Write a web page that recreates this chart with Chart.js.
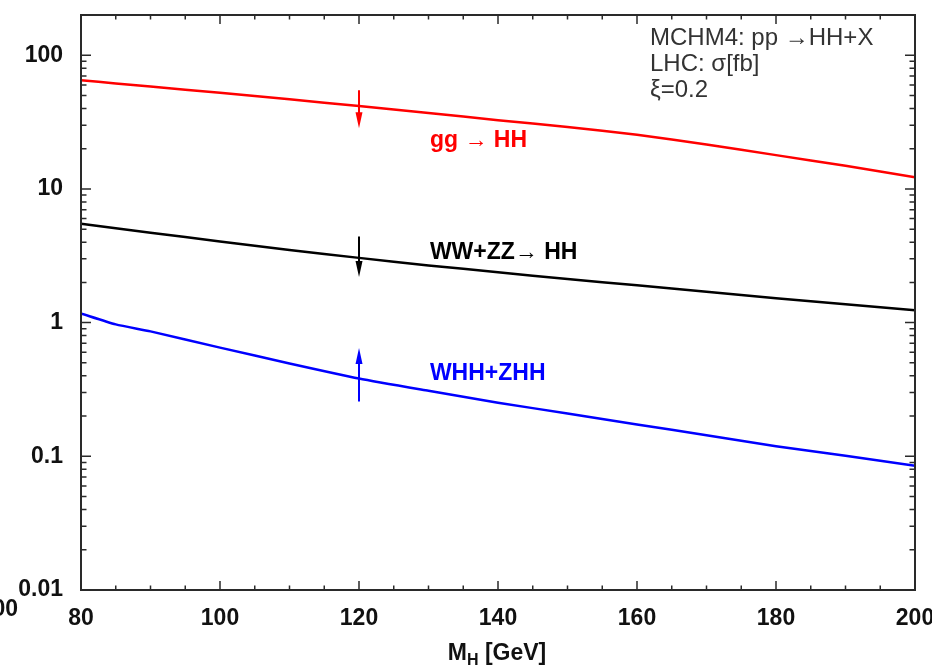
<!DOCTYPE html>
<html><head><meta charset="utf-8">
<script src="https://cdn.jsdelivr.net/npm/chart.js@4/dist/chart.umd.min.js"></script>
<style>html,body{margin:0;padding:0;background:#fff}#wrap{width:932px;height:668px;position:relative}</style>
</head><body><div id="wrap"><canvas id="c" width="932" height="668"></canvas></div>
<script>
// ---- data ----
const massGrid = [80, 85, 90, 100, 110, 120, 130, 140, 150, 160, 170, 180, 190, 200];
const ggHH     = [65, 61.5, 58.3, 52.4, 46.8, 41.7, 37.0, 32.7, 29.0, 25.4, 21.5, 17.9, 14.9, 12.2];
const vbfHH    = [5.5, 5.08, 4.70, 4.05, 3.50, 3.05, 2.68, 2.38, 2.12, 1.90, 1.70, 1.52, 1.37, 1.24];
const assocHH  = [1.17, 0.97, 0.86, 0.65, 0.495, 0.382, 0.309, 0.252, 0.209, 0.173, 0.144, 0.119, 0.101, 0.085];
const seriesNames = ['gg \u2192 HH', 'WW+ZZ\u2192 HH', 'WHH+ZHH'];
const arrowMass = [120, 120, 120];
const arrowFrom = [54.8, 4.4, 0.257];
const arrowTo   = [28.5, 2.19, 0.647];
const xTicks = [80, 100, 120, 140, 160, 180, 200];
const xTickLabels = ['80', '100', '120', '140', '160', '180', '200'];
const yTicks = [0.01, 0.1, 1, 10, 100];
const yTickLabels = ['0.01', '0.1', '1', '10', '100'];
const infoLines = ['MCHM4: pp \u2192HH+X', 'LHC: \u03c3[fb]', '\u03be=0.2'];
const xTitle = ['M', 'H', ' [GeV]'];

const colors = ['#ff0000', '#000000', '#0000ff'];
const FONT = '"Liberation Sans", Arial, Helvetica, sans-serif';
const AREA = { left: 81, right: 915, top: 15, bottom: 590 };

const decor = {
  id: 'decor',
  afterDatasetsDraw(chart) {
    const c = chart.ctx, xs = chart.scales.x, ys = chart.scales.y, a = chart.chartArea;
    c.save();
    c.strokeStyle = '#2a2a2a'; c.lineWidth = 2;
    c.strokeRect(a.left, a.top, a.right - a.left, a.bottom - a.top);
    c.lineWidth = 1.5;
    for (let v = 80; v <= 200; v += 5) {
      const px = xs.getPixelForValue(v);
      const len = (v % 20 === 0) ? 9 : 4.5;
      c.beginPath();
      c.moveTo(px, a.bottom); c.lineTo(px, a.bottom - len);
      c.moveTo(px, a.top); c.lineTo(px, a.top + len);
      c.stroke();
    }
    yTicks.forEach(d => {
      for (let k = 1; k <= 9; k++) {
        const v = d * k;
        if (v > 200) break;
        const py = ys.getPixelForValue(v);
        const len = k === 1 ? 10 : 5.5;
        c.beginPath();
        c.moveTo(a.left, py); c.lineTo(a.left + len, py);
        c.moveTo(a.right, py); c.lineTo(a.right - len, py);
        c.stroke();
      }
    });
    arrowMass.forEach((m, i) => {
      const px = xs.getPixelForValue(m);
      const y0 = ys.getPixelForValue(arrowFrom[i]);
      const y1 = ys.getPixelForValue(arrowTo[i]);
      const dir = y1 > y0 ? 1 : -1;
      c.strokeStyle = colors[i]; c.fillStyle = colors[i]; c.lineWidth = 2;
      c.beginPath(); c.moveTo(px, y0); c.lineTo(px, y1 - dir * 10); c.stroke();
      c.beginPath();
      c.moveTo(px, y1);
      c.lineTo(px - 3.5, y1 - dir * 16);
      c.lineTo(px + 3.5, y1 - dir * 16);
      c.closePath(); c.fill();
    });
    const labelPos = [[130.2, 22.8], [130.2, 3.33], [130.2, 0.416]];
    c.font = 'bold 23px ' + FONT; c.textBaseline = 'middle'; c.textAlign = 'left';
    seriesNames.forEach((t, i) => {
      c.fillStyle = colors[i];
      c.fillText(t, xs.getPixelForValue(labelPos[i][0]), ys.getPixelForValue(labelPos[i][1]));
    });
    c.font = '24px ' + FONT; c.fillStyle = '#333';
    infoLines.forEach((t, i) => c.fillText(t, a.left + 569, a.top + 23 + i * 26));
    c.fillStyle = '#111'; c.textBaseline = 'alphabetic';
    const f1 = 'bold 23px ' + FONT, f2 = 'bold 16px ' + FONT;
    c.font = f1; const w1 = c.measureText(xTitle[0]).width, w3 = c.measureText(xTitle[2]).width;
    c.font = f2; const w2 = c.measureText(xTitle[1]).width;
    let x0 = 497 - (w1 + w2 + w3) / 2;
    c.font = f1; c.fillText(xTitle[0], x0, 660);
    c.font = f2; c.fillText(xTitle[1], x0 + w1, 665);
    c.font = f1; c.fillText(xTitle[2], x0 + w1 + w2, 660);
    c.font = 'bold 23px ' + FONT; c.textAlign = 'right'; c.textBaseline = 'middle';
    c.fillText('00', 18, 610);
    c.restore();
  }
};

const mk = (vals, i) => ({
  data: massGrid.map((m, j) => ({ x: m, y: vals[j] })),
  borderColor: colors[i], borderWidth: 2.5, pointRadius: 0, tension: 0.2, fill: false
});
const noPad = s => { s.paddingTop = 0; s.paddingBottom = 0; s.paddingLeft = 0; s.paddingRight = 0; };

const chart = new Chart(document.getElementById('c'), {
  type: 'line',
  data: { datasets: [mk(ggHH, 0), mk(vbfHH, 1), mk(assocHH, 2)] },
  options: {
    responsive: false, animation: false, devicePixelRatio: 1,
    layout: { padding: { top: 15, right: 17, left: 0, bottom: 0 }, autoPadding: false },
    plugins: { legend: { display: false }, tooltip: { enabled: false } },
    scales: {
      x: {
        type: 'linear', min: 80, max: 200,
        afterBuildTicks: s => { s.ticks = xTicks.map(v => ({ value: v })); },
        afterFit: s => { s.height = 78; noPad(s); },
        ticks: { callback: (v, i) => xTickLabels[i], font: { family: FONT, size: 23, weight: 'bold' }, color: '#111', padding: 15, maxRotation: 0, autoSkip: false },
        grid: { display: false, drawTicks: false }, border: { display: false }
      },
      y: {
        type: 'logarithmic', min: 0.01, max: 200,
        afterBuildTicks: s => { s.ticks = yTicks.map(v => ({ value: v })); },
        afterFit: s => { s.width = 81; noPad(s); },
        ticks: { callback: (v, i) => yTickLabels[i], font: { family: FONT, size: 23, weight: 'bold' }, color: '#111', padding: 18, autoSkip: false },
        grid: { display: false, drawTicks: false }, border: { display: false }
      }
    }
  },
  plugins: [decor]
});
for (let k = 0; k < 3; k++) {
  const a = chart.chartArea, p = chart.options.layout.padding;
  const dt = AREA.top - a.top, dr = a.right - AREA.right, dl = AREA.left - a.left, db = a.bottom - AREA.bottom;
  if (Math.abs(dt) < 0.3 && Math.abs(dr) < 0.3 && Math.abs(dl) < 0.3 && Math.abs(db) < 0.3) break;
  p.top += dt; p.right += dr; p.left += dl; p.bottom += db;
  chart.update();
}
</script>
</body></html>
